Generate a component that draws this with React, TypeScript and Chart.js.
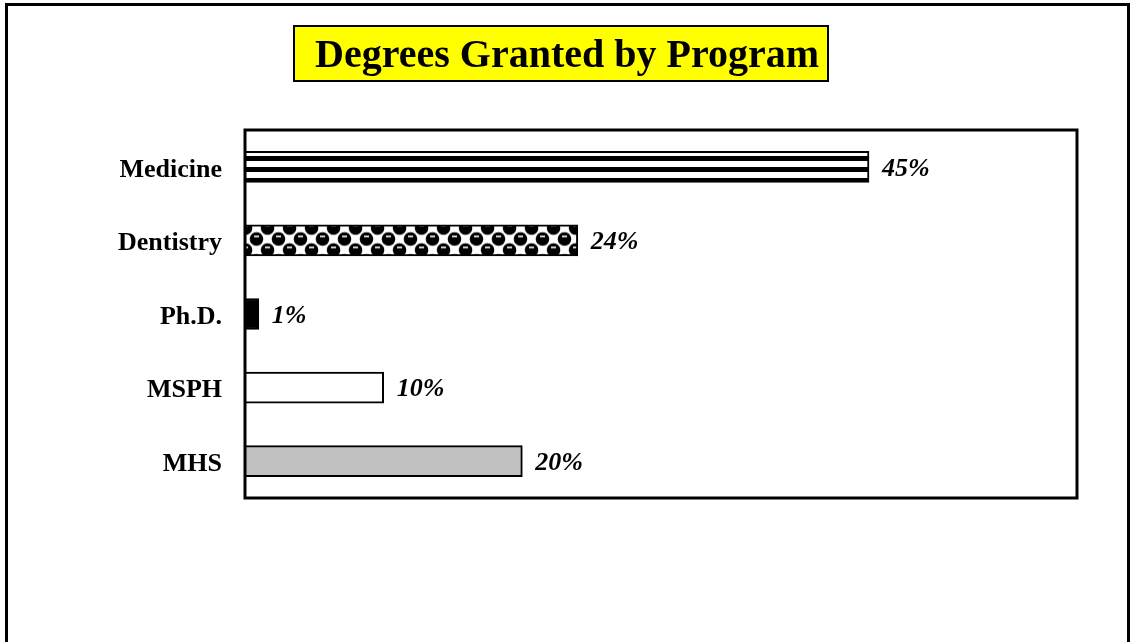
import React, { useEffect, useRef } from "react";
import { Chart, registerables } from "chart.js";

Chart.register(...registerables);

const categories = ["Medicine", "Dentistry", "Ph.D.", "MSPH", "MHS"];
const shares = [45, 24, 1, 10, 20];
const valueLabels = ["45%", "24%", "1%", "10%", "20%"];
const titleText = "Degrees Granted by Program";
const xMax = 60;

const SERIF = "'Liberation Serif', 'Times New Roman', serif";

function stripePattern(ctx: CanvasRenderingContext2D) {
  const c = document.createElement("canvas");
  c.width = 8;
  c.height = 11;
  const g = c.getContext("2d")!;
  g.fillStyle = "#fff";
  g.fillRect(0, 0, 8, 11);
  g.fillStyle = "#000";
  g.fillRect(0, 2, 8, 5);
  return ctx.createPattern(c, "repeat")!;
}

function checkerPattern(ctx: CanvasRenderingContext2D) {
  const c = document.createElement("canvas");
  c.width = 22;
  c.height = 22;
  const g = c.getContext("2d")!;
  g.fillStyle = "#fff";
  g.fillRect(0, 0, 22, 22);
  g.fillStyle = "#000";
  const centers = [
    [5.5, 5.5],
    [16.5, 16.5],
    [16.5 - 22, 16.5],
    [16.5, 16.5 - 22],
    [16.5 - 22, 16.5 - 22],
    [5.5 + 22, 5.5],
    [5.5, 5.5 + 22],
  ];
  centers.forEach(([x, y]) => {
    g.beginPath();
    g.arc(x, y, 6.8, 0, Math.PI * 2);
    g.fill();
  });
  g.fillStyle = "#fff";
  [
    [5.5, 5.5],
    [16.5, 16.5],
  ].forEach(([x, y]) => {
    g.fillRect(x - 2.5, y - 3.5, 5, 1.6);
  });
  const p = ctx.createPattern(c, "repeat")!;
  try {
    p.setTransform(new DOMMatrix().translate(9, 13.5));
  } catch (e) {}
  return p;
}

const framePlugin = {
  id: "frame",
  beforeDraw(chart: any) {
    const ctx = chart.ctx;
    ctx.save();
    ctx.fillStyle = "#fff";
    ctx.fillRect(0, 0, chart.width, chart.height);
    ctx.strokeStyle = "#000";
    ctx.lineWidth = 3;
    ctx.beginPath();
    ctx.moveTo(6.5, 660);
    ctx.lineTo(6.5, 4.5);
    ctx.lineTo(1128.5, 4.5);
    ctx.lineTo(1128.5, 660);
    ctx.stroke();
    // title box
    ctx.fillStyle = "#ffff00";
    ctx.fillRect(293, 25, 536, 57);
    ctx.lineWidth = 2;
    ctx.strokeRect(294, 26, 534, 55);
    ctx.fillStyle = "#000";
    ctx.font = `bold 40px ${SERIF}`;
    ctx.textAlign = "center";
    ctx.textBaseline = "middle";
    ctx.fillText(titleText, 567, 57);
    ctx.restore();
  },
  afterDraw(chart: any) {
    const { left, top, right, bottom } = chart.chartArea;
    const ctx = chart.ctx;
    ctx.save();
    ctx.strokeStyle = "#000";
    ctx.lineWidth = 3;
    ctx.strokeRect(left, top, right - left, bottom - top);
    ctx.restore();
  },
  afterDatasetsDraw(chart: any) {
    const ctx = chart.ctx;
    const meta = chart.getDatasetMeta(0);
    ctx.save();
    ctx.fillStyle = "#000";
    ctx.font = `italic bold 26px ${SERIF}`;
    ctx.textAlign = "left";
    ctx.textBaseline = "middle";
    meta.data.forEach((bar: any, i: number) => {
      ctx.fillText(valueLabels[i], bar.x + 13, bar.y + 2);
    });
    ctx.restore();
  },
};

export default function App() {
  const ref = useRef<HTMLCanvasElement>(null);
  useEffect(() => {
    document.body.style.margin = "0";
    const canvas = ref.current!;
    const ctx = canvas.getContext("2d")!;
    const fills = [stripePattern(ctx), checkerPattern(ctx), "#000", "#fff", "#c0c0c0"];
    const chart = new Chart(canvas, {
      type: "bar",
      data: {
        labels: categories,
        datasets: [
          {
            data: shares,
            backgroundColor: fills as any,
            borderColor: "#000",
            borderWidth: 2,
            barThickness: 31,
          },
        ],
      },
      options: {
        indexAxis: "y",
        animation: false,
        responsive: false,
        maintainAspectRatio: false,
        layout: { padding: { left: 0, top: 130, right: 55, bottom: 144 } },
        plugins: { legend: { display: false }, tooltip: { enabled: false }, title: { display: false } },
        scales: {
          x: {
            min: 0,
            max: xMax,
            display: false,
          },
          y: {
            grid: { display: false, drawTicks: false },
            border: { display: false },
            ticks: {
              color: "#000",
              padding: 23,
              labelOffset: 3,
              font: { family: SERIF, size: 26, weight: "bold" },
            },
            afterFit(axis: any) {
              axis.width = 245;
            },
          },
        },
      },
      plugins: [framePlugin],
    });
    return () => chart.destroy();
  }, []);
  return (
    <div style={{ position: "absolute", left: 0, top: 0, width: 1132, height: 642 }}>
      <canvas ref={ref} width={1132} height={642} style={{ width: 1132, height: 642, display: "block" }} />
    </div>
  );
}
